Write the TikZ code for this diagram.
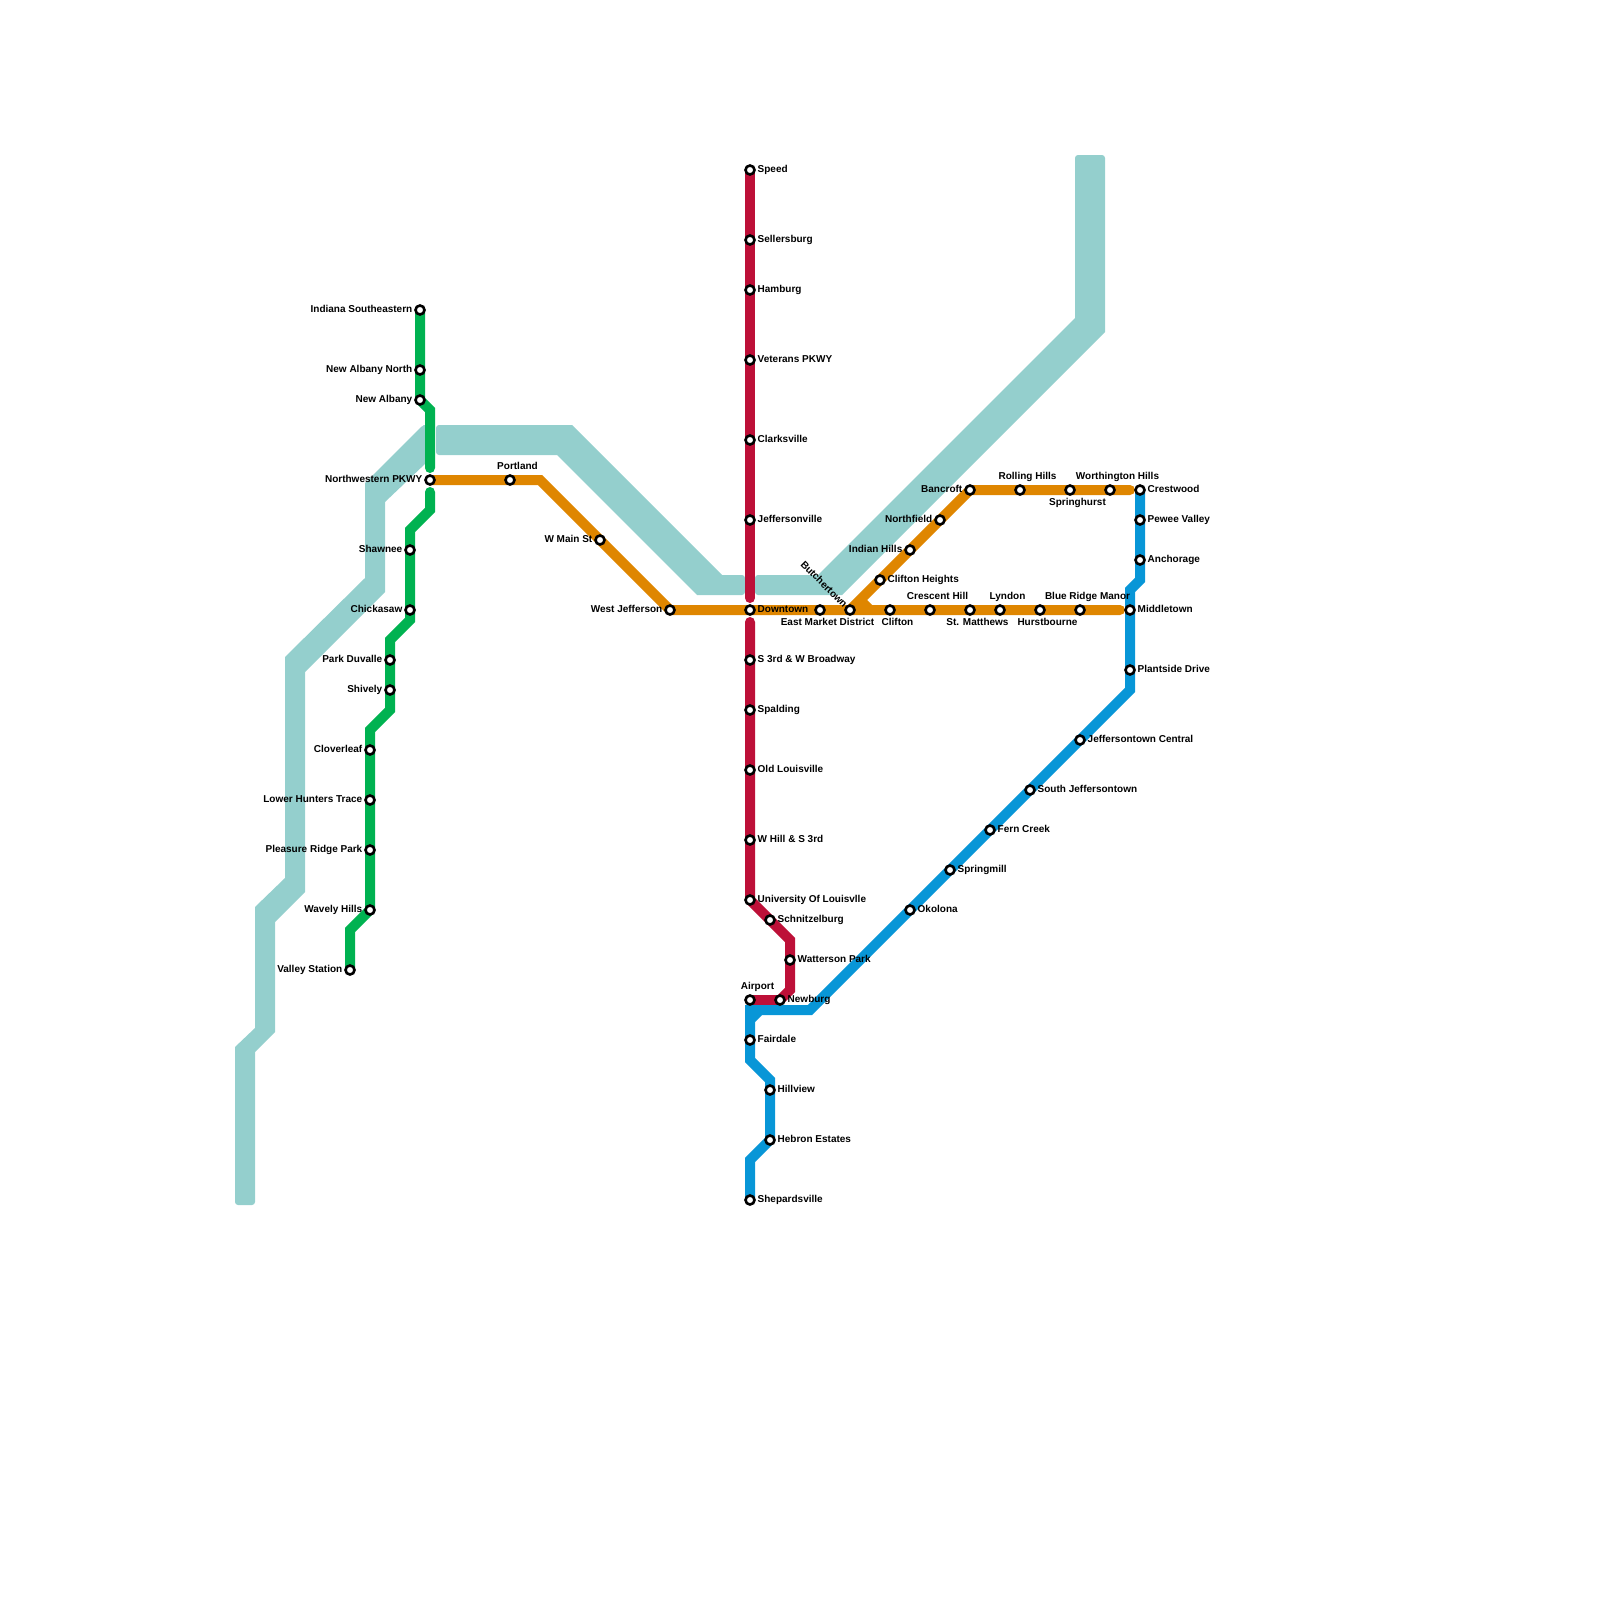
\documentclass[tikz,border=0pt]{standalone}
\usepackage{fontspec}
\setmainfont{Liberation Sans}
\usepackage{xcolor}
\usetikzlibrary{backgrounds}

\definecolor{rivercol}{HTML}{94CFCD}
\definecolor{redcol}{HTML}{BD1038}
\definecolor{orangecol}{HTML}{DF8600}
\definecolor{greencol}{HTML}{00B251}
\definecolor{bluecol}{HTML}{0896D7}

\begin{document}
\begin{tikzpicture}[
    x=1pt, y=-1pt,
    stn/.style={circle, draw=black, fill=white, line width=2.6pt, minimum size=9pt, inner sep=0pt, outer sep=0pt},
    lbl/.style={font=\bfseries\fontsize{10}{12}\selectfont, inner sep=0pt, outer sep=0pt, text=black},
    lblr/.style={label={[lbl, anchor=base west, xshift=3.2pt, yshift=-2.6pt]0:#1}},
    lbll/.style={label={[lbl, anchor=base east, xshift=-3.2pt, yshift=-2.6pt]180:#1}},
    lblt/.style={label={[lbl, anchor=base, xshift=7.5pt, yshift=5.9pt]90:#1}},
    lblb/.style={label={[lbl, anchor=base, xshift=7.5pt, yshift=-10.6pt]-90:#1}},
    river/.style={fill=rivercol},
    line/.style={line width=10pt, line cap=round}
]
    \useasboundingbox (0,0) rectangle (1600,1600);

    % red line
    \node[stn, lblr=Speed] (speed) at (750,170) {};
    \node[stn, lblr=Sellersburg] (sellersburg) at (750,240) {};
    \node[stn, lblr=Hamburg] (hamburg) at (750,290) {};
    \node[stn, lblr=Veterans PKWY] (veterans) at (750,360) {};
    \node[stn, lblr=Clarksville] (clarksville) at (750,440) {};
    \node[stn, lblr=Jeffersonville] (jeffersonville) at (750,520) {};
    \node[stn, lblr=Downtown] (downtown) at (750,610) {};
    \node[stn, lblr=S 3rd \& W Broadway] (broadway) at (750,660) {};
    \node[stn, lblr=Spalding] (spalding) at (750,710) {};
    \node[stn, lblr=Old Louisville] (oldlou) at (750,770) {};
    \node[stn, lblr=W Hill \& S 3rd] (whill) at (750,840) {};
    \node[stn, lblr=University Of Louisvlle] (university) at (750,900) {};
    \node[stn, lblr=Schnitzelburg] (schnitzelburg) at (770,920) {};
    \node[stn, lblr=Watterson Park] (watterson) at (790,960) {};
    \node[stn, lblr=Newburg] (newburg) at (780,1000) {};
    \node[stn, lblt=Airport] (airport) at (750,1000) {};

    % blue line
    \node[stn, lblr=Crestwood] (crestwood) at (1140,490) {};
    \node[stn, lblr=Pewee Valley] (pewee) at (1140,520) {};
    \node[stn, lblr=Anchorage] (anchorage) at (1140,560) {};
    \node[stn, lblr=Middletown] (middletown) at (1130,610) {};
    \node[stn, lblr=Plantside Drive] (plantside) at (1130,670) {};
    \node[stn, lblr=Jeffersontown Central] (jefftown) at (1080,740) {};
    \node[stn, lblr=South Jeffersontown] (southjeff) at (1030,790) {};
    \node[stn, lblr=Fern Creek] (fern) at (990,830) {};
    \node[stn, lblr=Springmill] (springmill) at (950,870) {};
    \node[stn, lblr=Okolona] (okolona) at (910,910) {};
    \node[stn, lblr=Fairdale] (fairdale) at (750,1040) {};
    \node[stn, lblr=Hillview] (hillview) at (770,1090) {};
    \node[stn, lblr=Hebron Estates] (hebron) at (770,1140) {};
    \node[stn, lblr=Shepardsville] (shepardsville) at (750,1200) {};

    % orange line
    \node[stn, lbll=Northwestern PKWY] (northwestern) at (430,480) {};
    \node[stn, lblt=Portland] (portland) at (510,480) {};
    \node[stn, lbll=W Main St] (wmain) at (600,540) {};
    \node[stn, lbll=West Jefferson] (westjeff) at (670,610) {};
    \node[stn, lblb=East Market District] (eastmarket) at (820,610) {};
    \node[stn, label={[lbl, rotate=-45, anchor=east, xshift=-1.5pt]135:Butchertown}] (butchertown) at (850,610) {};
    \node[stn, lblb=Clifton] (clifton) at (890,610) {};
    \node[stn, lblt=Crescent Hill] (crescent) at (930,610) {};
    \node[stn, lblb=St. Matthews] (matthews) at (970,610) {};
    \node[stn, lblt=Lyndon] (lyndon) at (1000,610) {};
    \node[stn, lblb=Hurstbourne] (hurstbourne) at (1040,610) {};
    \node[stn, lblt=Blue Ridge Manor] (blueridge) at (1080,610) {};
    \node[stn, lblr=Clifton Heights] (cliftonh) at (880,580) {};
    \node[stn, lbll=Indian Hills] (indian) at (910,550) {};
    \node[stn, lbll=Northfield] (northfield) at (940,520) {};
    \node[stn, lbll=Bancroft] (bancroft) at (970,490) {};
    \node[stn, lblt=Rolling Hills] (rolling) at (1020,490) {};
    \node[stn, lblb=Springhurst] (springhurst) at (1070,490) {};
    \node[stn, lblt=Worthington Hills] (worthington) at (1110,490) {};

    % green line
    \node[stn, lbll=Indiana Southeastern] (indiana) at (420,310) {};
    \node[stn, lbll=New Albany North] (albanyn) at (420,370) {};
    \node[stn, lbll=New Albany] (albany) at (420,400) {};
    \node[stn, lbll=Shawnee] (shawnee) at (410,550) {};
    \node[stn, lbll=Chickasaw] (chickasaw) at (410,610) {};
    \node[stn, lbll=Park Duvalle] (duvalle) at (390,660) {};
    \node[stn, lbll=Shively] (shively) at (390,690) {};
    \node[stn, lbll=Cloverleaf] (cloverleaf) at (370,750) {};
    \node[stn, lbll=Lower Hunters Trace] (hunters) at (370,800) {};
    \node[stn, lbll=Pleasure Ridge Park] (pleasure) at (370,850) {};
    \node[stn, lbll=Wavely Hills] (wavely) at (370,910) {};
    \node[stn, lbll=Valley Station] (valley) at (350,970) {};

    \begin{scope}[on background layer]
        % river
        \fill[river] (426,463) -- (385,502) -- (385,592) -- (305,672) -- (305,892) -- (275,922) -- (275,1032) -- (255,1052) [rounded corners=3pt] -- (255,1205) -- (235,1205) [sharp corners] -- (235,1047) -- (255,1028) -- (255,907) -- (285,878) -- (285,657) -- (365,578) -- (365,483) [rounded corners=3pt] -- (423,425) -- (426,425) [sharp corners] -- cycle;
        \fill[river] (572,425) -- (722,575) [rounded corners=3pt] -- (745,575) -- (745,595) [sharp corners] -- (697,595) -- (557,455) [rounded corners=3pt] -- (436,455) -- (436,425) [sharp corners] -- cycle;
        \fill[river] (818,575) -- (1075,318) [rounded corners=3pt] -- (1075,155) -- (1105,155) [sharp corners] -- (1105,332) -- (842,595) [rounded corners=3pt] -- (755,595) -- (755,575) [sharp corners] -- cycle;

        \draw[line, redcol, shorten >=12pt] (speed.center) -- (downtown.center);
        \draw[line, redcol, shorten <=12pt] (downtown.center) -- (university.center) -- (790,940) -- (790,990) -- (newburg.center) -- (airport.center);

        \draw[line, bluecol] (crestwood.center) -- (anchorage.center) -- (1140,580) -- (1130,590) -- (plantside.center) -- (1130,690) -- (810,1010) -- (760,1010) -- (750,1020) -- (fairdale.center) -- (750,1060) -- (770,1080) -- (hebron.center) -- (750,1160) -- (shepardsville.center);
        \draw[line width=10pt, bluecol] (760,1010) -- (750,1010) -- (750,1025);

        \draw[line, orangecol, shorten >=10pt] (northwestern.center) -- (540,480) -- (westjeff.center) -- (middletown.center);
        \draw[line, orangecol, shorten >=10pt] (butchertown.center) -- (bancroft.center) -- (crestwood.center);
        \draw[line width=10pt, orangecol] (860,600) -- (870,610);

        \draw[line, greencol, shorten >=12pt] (indiana.center) -- (albany.center) -- (430,410) -- (northwestern.center);
        \draw[line, greencol, shorten <=12pt] (northwestern.center) -- (430,510) -- (410,530) -- (chickasaw.center) -- (410,620) -- (390,640) -- (390,710) -- (370,730) -- (wavely.center) -- (350,930) -- (valley.center);
    \end{scope}
\end{tikzpicture}
\end{document}
